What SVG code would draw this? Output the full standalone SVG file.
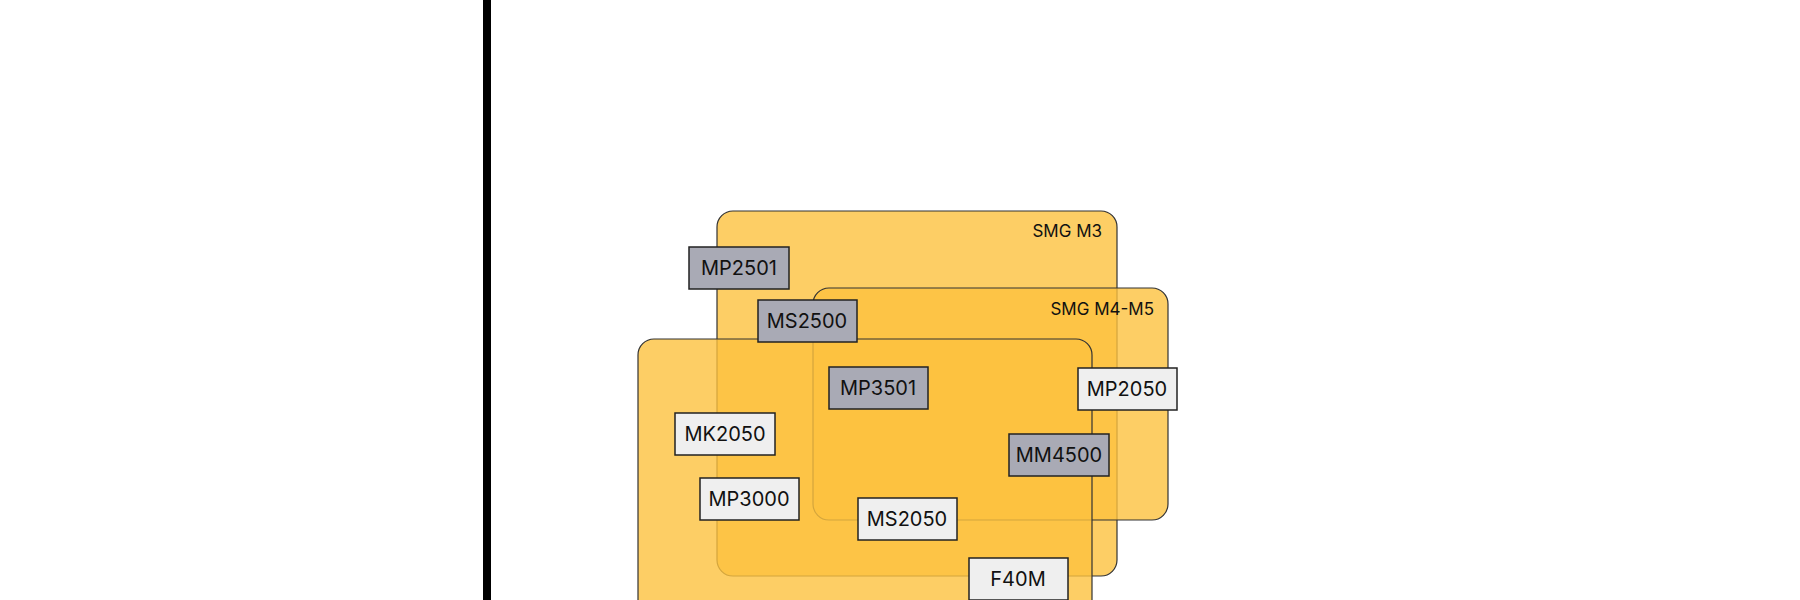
<svg xmlns="http://www.w3.org/2000/svg" width="1800" height="600" viewBox="0 0 1800 600">
<style>
.grp{fill:#fcc23f;fill-opacity:0.8;stroke:#333;stroke-width:1.2}
.b rect{stroke:#222;stroke-width:1.5}
.d rect{fill:#a9aab5}
.l rect{fill:#efefef}
text{font-family:"Inter","Liberation Sans",sans-serif;fill:#111}
.b text{font-size:20px;text-anchor:middle;dominant-baseline:central}
.gl{font-size:17px;text-anchor:end}
</style>
<rect width="1800" height="600" fill="#fff"/>
<line x1="487" y1="0" x2="487" y2="600" stroke="#000" stroke-width="8"/>
<g id="smg-m3"><rect class="grp" x="717" y="211" width="400" height="365" rx="16"/><text class="gl" x="1102" y="237">SMG M3</text></g>
<g id="smg-m4-m5"><rect class="grp" x="813" y="288" width="355" height="232" rx="16"/><text class="gl" x="1154" y="315">SMG M4-M5</text></g>
<g id="front"><rect class="grp" x="638" y="339" width="454" height="300" rx="16"/></g>
<g id="connectors"></g>
<g id="MP2501" class="b d"><rect x="689" y="247" width="100" height="42"/><text x="739" y="268">MP2501</text></g>
<g id="MS2500" class="b d"><rect x="758" y="300" width="99" height="42"/><text x="807" y="321">MS2500</text></g>
<g id="MP3501" class="b d"><rect x="829" y="367" width="99" height="42"/><text x="878" y="388">MP3501</text></g>
<g id="MP2050" class="b l"><rect x="1078" y="368" width="99" height="42"/><text x="1127" y="389">MP2050</text></g>
<g id="MK2050" class="b l"><rect x="675" y="413" width="100" height="42"/><text x="725" y="434">MK2050</text></g>
<g id="MM4500" class="b d"><rect x="1009" y="434" width="100" height="42"/><text x="1059" y="455">MM4500</text></g>
<g id="MP3000" class="b l"><rect x="700" y="478" width="99" height="42"/><text x="749" y="499">MP3000</text></g>
<g id="MS2050" class="b l"><rect x="858" y="498" width="99" height="42"/><text x="907" y="519">MS2050</text></g>
<g id="F40M" class="b l"><rect x="969" y="558" width="99" height="42"/><text x="1018" y="579">F40M</text></g>
</svg>
